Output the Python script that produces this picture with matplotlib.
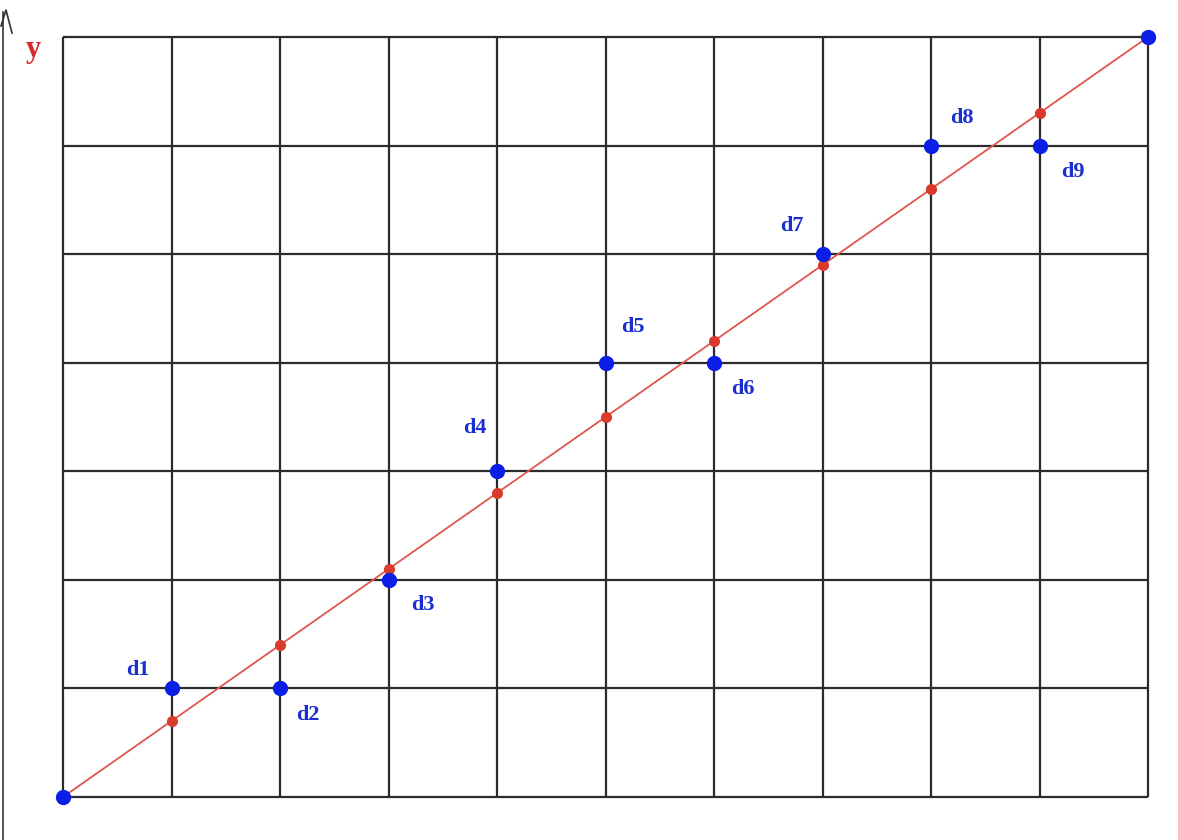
import numpy as np
import matplotlib.pyplot as plt

# grid size
n_cols = 10
n_rows = 7

# blue data points d1..d9 plus the two end points
pts_x = [0, 1, 2, 3, 4, 5, 6, 7, 8, 9, 10]
pts_y = [0, 1, 1, 2, 3, 4, 4, 5, 6, 6, 7]
labels = ["", "d1", "d2", "d3", "d4", "d5", "d6", "d7", "d8", "d9", ""]

# fitted line y = 0.7 x, red points on it
fit_x = [1, 2, 3, 4, 5, 6, 7, 8, 9]
slope = 0.7

# label offsets in points (layout)
offsets = [(0, 0), (-24, 13), (20, -19), (25, -18), (-16, 31), (20, 26),
           (21, -19), (-22, 20), (22, 20), (24, -19), (0, 0)]

fig = plt.figure(figsize=(11.78, 8.40), dpi=100)
ax = fig.add_axes([63 / 1178, 43 / 840, (1148 - 63) / 1178, (797 - 37) / 840])
ax.set_xlim(0, n_cols)
ax.set_ylim(0, n_rows)
ax.axis("off")

grid_c = "#2b2b2b"
ax.vlines(range(n_cols + 1), 0, n_rows, color=grid_c, lw=1.6, clip_on=False)
ax.hlines(range(n_rows + 1), 0, n_cols, color=grid_c, lw=1.6, clip_on=False)

lx = np.array([0, n_cols])
ax.plot(lx, slope * lx, color="#e0554d", lw=1.3, clip_on=False, zorder=3)
ax.plot(fit_x, [slope * v for v in fit_x], "o", color="#d93a2b", ms=7,
        clip_on=False, zorder=4)
ax.plot(pts_x, pts_y, "o", color="#0a1ee6", ms=10, clip_on=False, zorder=5)

for x, y, lab, off in zip(pts_x, pts_y, labels, offsets):
    if lab:
        ax.annotate(lab, (x, y), xytext=off, textcoords="offset points",
                    ha="center", va="center", color="#1a2fd0",
                    fontsize=16, fontweight="bold", family="Liberation Serif")

# y axis arrow on the left edge
fig.add_artist(plt.Line2D([3 / 1178, 3 / 1178], [0, 1 - 12 / 840],
                          color="#333333", lw=1.2))
fig.add_artist(plt.Line2D([1 / 1178, 6 / 1178, 12 / 1178],
                          [1 - 26 / 840, 1 - 10 / 840, 1 - 33 / 840],
                          color="#333333", lw=1.2))
fig.text(33 / 1178, 1 - 50 / 840, "y", color="#d42b2b", fontsize=22,
         fontweight="bold", family="Liberation Serif", ha="center", va="center")

fig.savefig("out.png", dpi=100)
